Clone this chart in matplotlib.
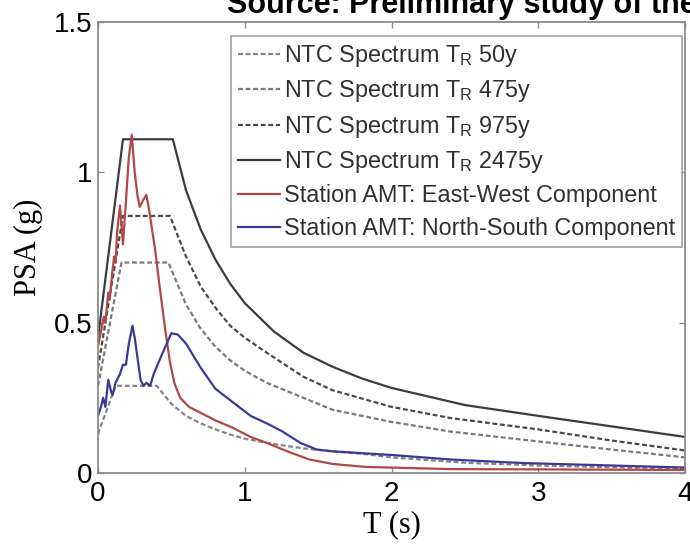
import matplotlib
matplotlib.use("Agg")
import matplotlib.pyplot as plt

# ---- data ----
T_50 = [0, 0.12, 0.40, 0.5, 0.6, 0.7, 0.8, 0.9, 1.0, 1.2, 1.4, 1.6, 1.8, 2.0, 2.5, 3.0, 3.5, 4.0]
psa_50 = [0.13, 0.29, 0.29, 0.23, 0.19, 0.165, 0.145, 0.128, 0.114, 0.096, 0.082, 0.072, 0.064, 0.052, 0.034, 0.025, 0.019, 0.015]

T_475 = [0, 0.16, 0.48, 0.6, 0.7, 0.8, 0.9, 1.0, 1.15, 1.4, 1.6, 2.0, 2.4, 3.0, 3.5, 4.0]
psa_475 = [0.29, 0.70, 0.70, 0.56, 0.48, 0.42, 0.375, 0.34, 0.30, 0.25, 0.21, 0.17, 0.138, 0.105, 0.078, 0.052]

T_975 = [0, 0.17, 0.49, 0.6, 0.7, 0.8, 0.9, 1.0, 1.15, 1.4, 1.6, 2.0, 2.4, 3.0, 3.5, 4.0]
psa_975 = [0.35, 0.855, 0.855, 0.72, 0.62, 0.55, 0.49, 0.45, 0.40, 0.32, 0.275, 0.22, 0.183, 0.145, 0.108, 0.075]

T_2475 = [0, 0.17, 0.51, 0.6, 0.7, 0.8, 0.9, 1.0, 1.2, 1.4, 1.6, 1.8, 2.0, 2.5, 3.0, 3.5, 4.0]
psa_2475 = [0.45, 1.11, 1.11, 0.94, 0.81, 0.71, 0.63, 0.565, 0.47, 0.40, 0.353, 0.314, 0.283, 0.226, 0.19, 0.155, 0.12]

T_ew = [0.0, 0.02, 0.04, 0.05, 0.07, 0.08, 0.10, 0.11, 0.12, 0.13, 0.15, 0.17, 0.19, 0.21, 0.23,
        0.25, 0.27, 0.285, 0.31, 0.33, 0.35, 0.39, 0.42, 0.46, 0.49, 0.52, 0.56, 0.62, 0.7, 0.8,
        0.92, 1.04, 1.15, 1.3, 1.44, 1.6, 1.83, 2.0, 2.4, 3.0, 3.5, 4.0]
psa_ew = [0.42, 0.47, 0.52, 0.50, 0.60, 0.58, 0.68, 0.72, 0.70, 0.80, 0.89, 0.76, 0.90, 1.05, 1.125,
          1.00, 0.92, 0.885, 0.91, 0.925, 0.87, 0.74, 0.62, 0.47, 0.37, 0.30, 0.25, 0.22, 0.20, 0.175,
          0.15, 0.12, 0.10, 0.07, 0.045, 0.03, 0.02, 0.018, 0.013, 0.012, 0.011, 0.010]

T_ns = [0.0, 0.02, 0.035, 0.05, 0.07, 0.09, 0.10, 0.12, 0.135, 0.15, 0.17, 0.19, 0.21, 0.235, 0.25,
        0.27, 0.29, 0.31, 0.33, 0.355, 0.38, 0.41, 0.45, 0.50, 0.545, 0.6, 0.7, 0.8, 0.92, 1.04,
        1.15, 1.25, 1.38, 1.49, 1.6, 1.83, 2.0, 2.4, 2.9, 3.5, 4.0]
psa_ns = [0.19, 0.22, 0.25, 0.22, 0.31, 0.27, 0.26, 0.30, 0.315, 0.33, 0.36, 0.36, 0.43, 0.49, 0.45,
          0.38, 0.31, 0.29, 0.30, 0.29, 0.33, 0.365, 0.41, 0.465, 0.46, 0.43, 0.35, 0.28, 0.235, 0.19,
          0.165, 0.14, 0.10, 0.078, 0.072, 0.065, 0.06, 0.045, 0.033, 0.025, 0.018]

labels = [r"NTC Spectrum T$_\mathregular{R}$ 50y",
          r"NTC Spectrum T$_\mathregular{R}$ 475y",
          r"NTC Spectrum T$_\mathregular{R}$ 975y",
          r"NTC Spectrum T$_\mathregular{R}$ 2475y",
          "Station AMT: East-West Component",
          "Station AMT: North-South Component"]

x_ticks = [0, 1, 2, 3, 4]
y_ticks = [0, 0.5, 1, 1.5]
y_tick_labels = ["0", "0.5", "1", "1.5"]

plt.rcParams['font.family'] = ['Liberation Sans', 'DejaVu Sans']
plt.rcParams['mathtext.fontset'] = 'custom'
plt.rcParams['mathtext.rm'] = 'Liberation Sans'

fig = plt.figure(figsize=(6.90, 5.49), dpi=100)
ax = fig.add_axes([98/690, (549-473)/549, (685-98)/690, (473-22)/549])

dash = (2.2, 1.2)
lw = 1.6
ax.plot(T_50, psa_50, color="#858585", lw=lw, dashes=dash, label=labels[0])
ax.plot(T_475, psa_475, color="#7a7a7a", lw=lw, dashes=dash, label=labels[1])
ax.plot(T_975, psa_975, color="#4a4a4a", lw=lw, dashes=dash, label=labels[2])
ax.plot(T_2475, psa_2475, color="#3c3c3c", lw=lw, label=labels[3])
ax.plot(T_ew, psa_ew, color="#b04848", lw=lw, label=labels[4])
ax.plot(T_ns, psa_ns, color="#3a3a96", lw=lw, label=labels[5])

ax.set_xlim(0, 4)
ax.set_ylim(0, 1.5)
ax.set_xticks(x_ticks)
ax.set_xticklabels([str(v) for v in x_ticks])
ax.set_yticks(y_ticks)
ax.set_yticklabels(y_tick_labels)
ax.tick_params(direction='in', length=4, width=1, color="#909090",
               top=True, right=True, labelsize=20)
ax.tick_params(axis='x', pad=6)
ax.tick_params(axis='y', pad=4)
for s in ax.spines.values():
    s.set_color("#8a8a8a")
    s.set_linewidth(1.3)

ax.set_xlabel("T (s)", fontsize=22, family=['Liberation Serif', 'DejaVu Serif'], labelpad=2)
ax.set_ylabel("PSA (g)", fontsize=22, family=['Liberation Serif', 'DejaVu Serif'], labelpad=8)

leg = ax.legend(loc='upper right', bbox_to_anchor=(682/690, 1-36/549),
                bbox_transform=fig.transFigure, fontsize=16.8, frameon=True,
                fancybox=False, borderaxespad=0, handlelength=1.8, handletextpad=0.15,
                labelspacing=0.4, borderpad=0.3)
leg.get_frame().set_edgecolor("#8a8a8a")
leg.get_frame().set_linewidth(1.2)
for t in leg.get_texts():
    t.set_color("#303030")

fig.text(227/690, 1-13/549, "Source: Preliminary study of the", fontsize=22,
         fontweight='bold', ha='left', va='baseline', color='black')

fig.savefig("out.png", dpi=100)
